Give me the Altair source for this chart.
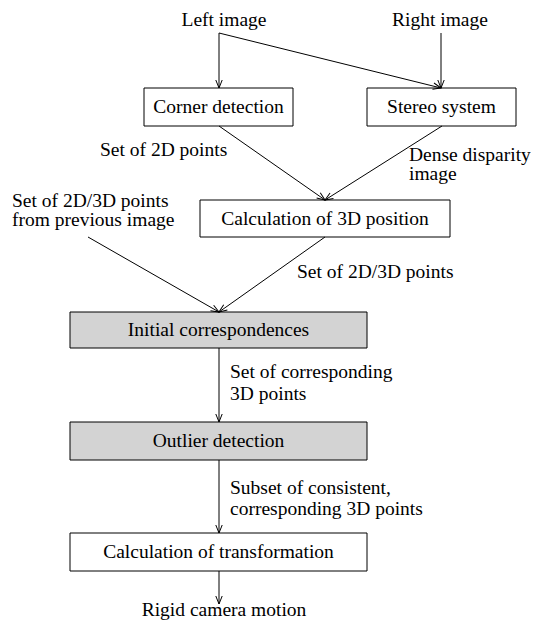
import math
import altair as alt
import pandas as pd

FONT = "Liberation Serif"
FS = 19.5

# Boxes of the flow chart (page pixel layout)
box_labels = ["Corner detection", "Stereo system", "Calculation of 3D position",
              "Initial correspondences", "Outlier detection",
              "Calculation of transformation"]
box_left = [144, 367, 200, 70, 70, 70]
box_right = [293, 516, 450, 367, 367, 367]
box_top = [88, 88, 200, 312, 422, 533]
box_bottom = [126, 126, 237, 348, 460, 571]
box_shaded = ["no", "no", "no", "yes", "yes", "no"]

# Source labels (centred)
src_labels = ["Left image", "Right image"]
src_x = [224, 440]
src_y = [20, 20]

# Sink label (centred, positioned by its baseline)
sink_labels = ["Rigid camera motion"]
sink_x = [224]
sink_y = [616]

# Edge annotations (left aligned)
note_lines = ["Set of 2D points", "Dense disparity", "image",
              "Set of 2D/3D points", "from previous image",
              "Set of 2D/3D points", "Set of corresponding", "3D points",
              "Subset of consistent,", "corresponding 3D points"]
note_x = [100, 409, 409, 12, 12, 297, 230, 230, 230, 230]
note_y = [150, 155, 174, 201, 220, 272, 372, 394, 488, 509]

# Arrows (from -> to)
edge_x1 = [219, 219, 441, 219, 442, 88, 325, 219, 219, 219]
edge_y1 = [33, 33, 33, 126, 126, 237, 237, 348, 460, 571]
edge_x2 = [219, 441, 441, 325, 325, 219, 219, 219, 219, 219]
edge_y2 = [88, 88, 88, 200, 200, 312, 312, 422, 533, 604]

boxes = pd.DataFrame({
    "label": box_labels, "x1": box_left, "x2": box_right,
    "y1": box_top, "y2": box_bottom, "shaded": box_shaded,
})
boxes["cx"] = (boxes["x1"] + boxes["x2"]) / 2
boxes["cy"] = (boxes["y1"] + boxes["y2"]) / 2

srcs = pd.DataFrame({"label": src_labels, "x": src_x, "y": src_y})
sinks = pd.DataFrame({"label": sink_labels, "x": sink_x, "y": sink_y})
notes = pd.DataFrame({"label": note_lines, "x": note_x, "y": note_y})
edges = pd.DataFrame({"x1": edge_x1, "y1": edge_y1, "x2": edge_x2, "y2": edge_y2})
edges["angle"] = [
    math.degrees(math.atan2(-(b - a), (d - c))) % 360
    for a, b, c, d in zip(edges["x1"], edges["x2"], edges["y1"], edges["y2"])
]

W, H = 523, 613
xs = alt.Scale(domain=[8, 8 + W], nice=False, zero=False)
ys = alt.Scale(domain=[8, 8 + H], nice=False, zero=False, reverse=True)

rects = alt.Chart(boxes).mark_rect(stroke="black", strokeWidth=1).encode(
    x=alt.X("x1:Q", scale=xs, axis=None),
    x2="x2:Q",
    y=alt.Y("y1:Q", scale=ys, axis=None),
    y2="y2:Q",
    fill=alt.Fill("shaded:N", scale=alt.Scale(domain=["no", "yes"],
                                               range=["white", "#d3d3d3"]),
                  legend=None),
)

box_text = alt.Chart(boxes).mark_text(
    font=FONT, fontSize=FS, color="black", align="center", baseline="middle"
).encode(
    x=alt.X("cx:Q", scale=xs, axis=None),
    y=alt.Y("cy:Q", scale=ys, axis=None),
    text="label:N",
)

lines = alt.Chart(edges).mark_rule(color="black", strokeWidth=1).encode(
    x=alt.X("x1:Q", scale=xs, axis=None),
    y=alt.Y("y1:Q", scale=ys, axis=None),
    x2="x2:Q",
    y2="y2:Q",
)

heads = alt.Chart(edges).mark_point(
    shape="M-0.4,-1L0,0L0.4,-1", filled=False, size=256,
    stroke="black", strokeWidth=1, opacity=1
).encode(
    x=alt.X("x2:Q", scale=xs, axis=None),
    y=alt.Y("y2:Q", scale=ys, axis=None),
    angle=alt.Angle("angle:Q", scale=None),
)

src_text = alt.Chart(srcs).mark_text(
    font=FONT, fontSize=FS, color="black", align="center", baseline="middle"
).encode(
    x=alt.X("x:Q", scale=xs, axis=None),
    y=alt.Y("y:Q", scale=ys, axis=None),
    text="label:N",
)

sink_text = alt.Chart(sinks).mark_text(
    font=FONT, fontSize=FS, color="black", align="center", baseline="alphabetic"
).encode(
    x=alt.X("x:Q", scale=xs, axis=None),
    y=alt.Y("y:Q", scale=ys, axis=None),
    text="label:N",
)

note_text = alt.Chart(notes).mark_text(
    font=FONT, fontSize=FS, color="black", align="left", baseline="middle"
).encode(
    x=alt.X("x:Q", scale=xs, axis=None),
    y=alt.Y("y:Q", scale=ys, axis=None),
    text="label:N",
)

chart = alt.layer(rects, lines, heads, box_text, src_text, sink_text,
                  note_text).properties(
    width=W, height=H, padding=0,
    autosize=alt.AutoSizeParams(type="none"),
    background="white",
).configure_view(stroke=None)

chart.save("out.html", embed_options={"renderer": "svg", "actions": False})
